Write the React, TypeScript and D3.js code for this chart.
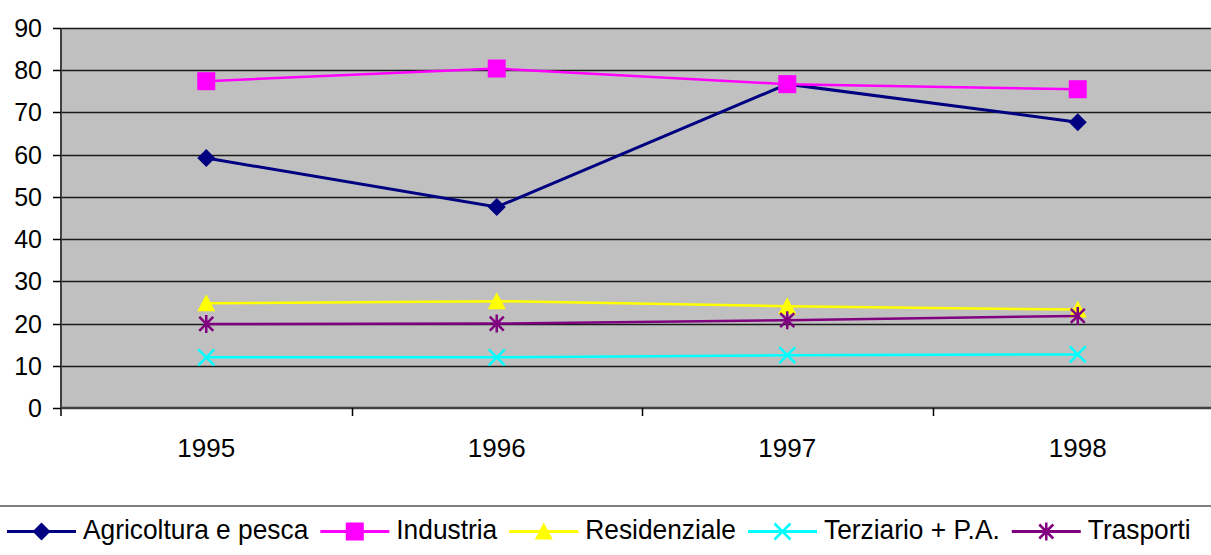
import React, { useRef, useEffect } from "react";
import * as d3 from "d3";

const years = ["1995", "1996", "1997", "1998"];
const yTicks = [0, 10, 20, 30, 40, 50, 60, 70, 80, 90];

const agricoltura = [59.2, 47.6, 76.7, 67.7];
const industria = [77.4, 80.4, 76.7, 75.5];
const residenziale = [24.8, 25.3, 24.1, 23.3];
const terziario = [12.0, 12.0, 12.5, 12.7];
const trasporti = [19.9, 20.0, 20.8, 21.8];

const seriesNames = ["Agricoltura e pesca", "Industria", "Residenziale", "Terziario + P.A.", "Trasporti"];
const seriesColors = ["#000080", "#ff00ff", "#ffff00", "#00ffff", "#800080"];
const seriesMarkers = ["diamond", "square", "triangle", "x", "star"];

const W = 1211;
const H = 555;
const FONT = "Liberation Sans, Arial, sans-serif";

// draws one marker centred at 0,0
const drawMarker = (g, kind, color) => {
  if (kind === "diamond") {
    g.append("path").attr("d", "M0,-9L9,0L0,9L-9,0Z").attr("fill", color);
  } else if (kind === "square") {
    g.append("rect").attr("x", -9).attr("y", -9).attr("width", 18).attr("height", 18).attr("fill", color);
  } else if (kind === "triangle") {
    g.append("path").attr("d", "M0,-9L9,8L-9,8Z").attr("fill", color);
  } else if (kind === "x") {
    g.append("path").attr("d", "M-8,-8L8,8M-8,8L8,-8").attr("stroke", color).attr("stroke-width", 2.5);
  } else {
    g.append("path")
      .attr("d", "M-7,-7L7,7M-7,7L7,-7M0,-9L0,9")
      .attr("stroke", color)
      .attr("stroke-width", 2.5);
  }
};

const App = () => {
  const svgRef = useRef(null);

  useEffect(() => {
    const margin = { top: 28, left: 61, bottom: 147 };
    const svg = d3.select(svgRef.current);
    svg.selectAll("*").remove();

    const bandW = 290.5;
    const x = d3.scaleBand().domain(years).range([margin.left, margin.left + bandW * years.length]);
    const y = d3.scaleLinear().domain([0, 90]).range([H - margin.bottom, margin.top]);

    // plot background
    svg
      .append("rect")
      .attr("x", margin.left)
      .attr("y", margin.top)
      .attr("width", W - margin.left)
      .attr("height", y(0) - margin.top)
      .attr("fill", "#c0c0c0");

    // gridlines
    svg
      .selectAll(".grid")
      .data(yTicks.filter((d) => d > 0))
      .enter()
      .append("line")
      .attr("x1", margin.left)
      .attr("x2", W)
      .attr("y1", (d) => Math.round(y(d)) + 0.5)
      .attr("y2", (d) => Math.round(y(d)) + 0.5)
      .attr("stroke", "#1a1a1a")
      .attr("stroke-width", 1.5);

    // y axis
    const yAxis = svg.append("g").attr("transform", `translate(${margin.left},0)`);
    yAxis
      .append("line")
      .attr("x1", 0)
      .attr("x2", 0)
      .attr("y1", margin.top)
      .attr("y2", y(0) + 8)
      .attr("stroke", "#404040")
      .attr("stroke-width", 2);
    yAxis
      .selectAll(".tick")
      .data(yTicks)
      .enter()
      .append("line")
      .attr("x1", -8)
      .attr("x2", 0)
      .attr("y1", (d) => Math.round(y(d)) + 0.5)
      .attr("y2", (d) => Math.round(y(d)) + 0.5)
      .attr("stroke", "#000")
      .attr("stroke-width", 1.5);
    yAxis
      .selectAll("text")
      .data(yTicks)
      .enter()
      .append("text")
      .attr("x", -19)
      .attr("y", (d) => y(d) + 9)
      .attr("text-anchor", "end")
      .attr("font-family", FONT)
      .attr("font-size", 25)
      .attr("fill", "#000")
      .text((d) => d);

    // x axis
    const baseY = y(0);
    svg
      .append("line")
      .attr("x1", margin.left)
      .attr("x2", W)
      .attr("y1", baseY)
      .attr("y2", baseY)
      .attr("stroke", "#404040")
      .attr("stroke-width", 2.5);
    svg
      .selectAll(".xtick")
      .data(years.slice(1))
      .enter()
      .append("line")
      .attr("x1", (d) => Math.round(x(d)) + 0.5)
      .attr("x2", (d) => Math.round(x(d)) + 0.5)
      .attr("y1", baseY)
      .attr("y2", baseY + 8)
      .attr("stroke", "#000")
      .attr("stroke-width", 1.5);
    svg
      .selectAll(".xlabel")
      .data(years)
      .enter()
      .append("text")
      .attr("x", (d) => x(d) + x.bandwidth() / 2)
      .attr("y", baseY + 49)
      .attr("text-anchor", "middle")
      .attr("font-family", FONT)
      .attr("font-size", 26)
      .attr("fill", "#000")
      .text((d) => d);

    // series, later ones drawn on top
    const allSeries = [agricoltura, industria, residenziale, terziario, trasporti];
    const cx = (i) => x(years[i]) + x.bandwidth() / 2;
    const line = d3
      .line()
      .x((d, i) => cx(i))
      .y((d) => y(d));

    allSeries.forEach((vals, s) => {
      svg
        .append("path")
        .datum(vals)
        .attr("d", line)
        .attr("fill", "none")
        .attr("stroke", seriesColors[s])
        .attr("stroke-width", s === 0 ? 3 : 2.5);
      vals.forEach((v, i) => {
        const g = svg.append("g").attr("transform", `translate(${cx(i)},${y(v)})`);
        drawMarker(g, seriesMarkers[s], seriesColors[s]);
      });
    });

    // legend
    svg
      .append("line")
      .attr("x1", 0)
      .attr("x2", W)
      .attr("y1", 506)
      .attr("y2", 506)
      .attr("stroke", "#808080")
      .attr("stroke-width", 2);

    const legendY = 531.5;
    let lx = 7;
    seriesNames.forEach((name, s) => {
      const g = svg.append("g");
      g.append("line")
        .attr("x1", lx)
        .attr("x2", lx + 69)
        .attr("y1", legendY)
        .attr("y2", legendY)
        .attr("stroke", seriesColors[s])
        .attr("stroke-width", 3);
      const mg = g.append("g").attr("transform", `translate(${lx + 34.5},${legendY})`);
      drawMarker(mg, seriesMarkers[s], seriesColors[s]);
      const t = g
        .append("text")
        .attr("x", lx + 76)
        .attr("y", legendY + 7)
        .attr("font-family", FONT)
        .attr("font-size", 28)
        .attr("fill", "#000")
        .text(name);
      const natural = t.node().getComputedTextLength();
      const w = natural * 0.94;
      t.attr("textLength", w).attr("lengthAdjust", "spacingAndGlyphs");
      lx = lx + 76 + w + 12;
    });
  }, []);

  return (
    <svg
      ref={svgRef}
      width={W}
      height={H}
      style={{ position: "absolute", left: 0, top: 0, background: "#fff" }}
    />
  );
};

export default App;
